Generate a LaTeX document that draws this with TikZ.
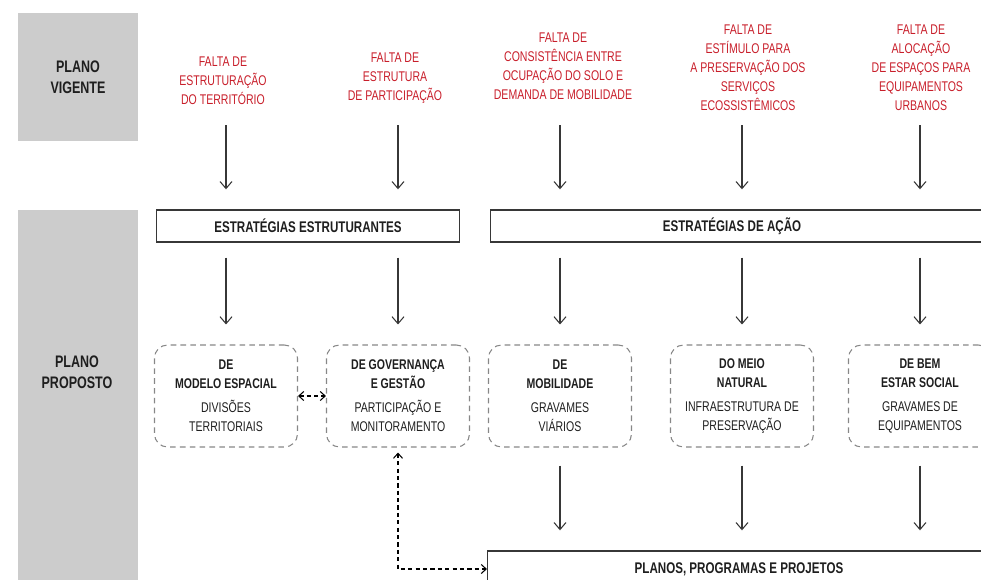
\documentclass[tikz,border=0pt]{standalone}
\usepackage{fontspec}
\setmainfont{Liberation Sans}[FakeStretch=0.75]
\usetikzlibrary{arrows.meta, positioning, calc}
\definecolor{planogray}{RGB}{204, 204, 204}
\definecolor{faltared}{RGB}{200, 30, 42}
\definecolor{linegray}{RGB}{55, 55, 55}
\definecolor{dashgray}{RGB}{135, 135, 135}
\definecolor{textdark}{RGB}{30, 30, 30}
\tikzstyle{header} = [rectangle, fill=planogray, minimum width=2.4cm, text=textdark, align=center, font=\fontsize{9.5}{11.8}\selectfont\bfseries]
\tikzstyle{headerlbl} = [text=textdark, align=center, font=\fontsize{9.5}{11.8}\selectfont\bfseries]
\tikzstyle{falta} = [text=faltared, align=center, font=\fontsize{8}{10.8}\selectfont]
\tikzstyle{strategy} = [rectangle, draw=linegray, line width=0.8pt, minimum height=0.64cm, text=textdark, font=\fontsize{8.8}{10.8}\selectfont\bfseries]
\tikzstyle{strategylbl} = [text=textdark, font=\fontsize{8.8}{10.8}\selectfont\bfseries]
\tikzstyle{eixo} = [rectangle, draw=dashgray, dash pattern=on 3.2pt off 2.4pt, line width=0.6pt, rounded corners=0.26cm, minimum width=2.86cm, minimum height=2.04cm, text=textdark, align=center, font=\fontsize{8}{10.8}\selectfont]
\tikzstyle{arrow} = [-{Straight Barb[length=1.4mm, width=2.4mm]}, line width=0.6pt, draw=linegray]
\tikzstyle{dasharrow} = [{Straight Barb[length=1mm, width=1.8mm]}-{Straight Barb[length=1mm, width=1.8mm]}, line width=0.6pt, draw=black, dash pattern=on 2.4pt off 1.8pt]

\begin{document}
\begin{tikzpicture}[x=0.02cm, y=-0.02cm]
    \useasboundingbox (0,0) rectangle (981,579);
    \clip (0,0) rectangle (981,579);

    % Plano vigente
    \node[header, minimum height=2.56cm] (vigente) at (78, 77) {PLANO\\VIGENTE};

    % Plano proposto (runs past the lower edge)
    \node[header, minimum height=7.8cm, anchor=north] (proposto) at (78, 210) {};
    \node[headerlbl] (propostolbl) at (77, 372) {PLANO\\PROPOSTO};

    % Problems of the current plan
    \node[falta] (falta1) at (223, 81) {FALTA DE\\ESTRUTURAÇÃO\\DO TERRITÓRIO};
    \node[falta] (falta2) at (395, 78) {FALTA DE\\ESTRUTURA\\DE PARTICIPAÇÃO};
    \node[falta] (falta3) at (563, 66) {FALTA DE\\CONSISTÊNCIA ENTRE\\OCUPAÇÃO DO SOLO E\\DEMANDA DE MOBILIDADE};
    \node[falta] (falta4) at (748, 68) {FALTA DE\\ESTÍMULO PARA\\A PRESERVAÇÃO DOS\\SERVIÇOS\\ECOSSISTÊMICOS};
    \node[falta] (falta5) at (921, 68) {FALTA DE\\ALOCAÇÃO\\DE ESPAÇOS PARA\\EQUIPAMENTOS\\URBANOS};
    \coordinate (top) at (0, 125);

    % Strategies
    \node[strategy, minimum width=6.06cm] (estrut) at (308, 226) {ESTRATÉGIAS ESTRUTURANTES};
    \node[strategy, minimum width=10.6cm, anchor=west] (acao) at (490, 226) {};
    \node[strategylbl] (acaolbl) at (732, 226) {ESTRATÉGIAS DE AÇÃO};

    % Axes - horizontal layout
    \node[eixo] (espacial) at (226, 396) {\textbf{DE}\\\textbf{MODELO ESPACIAL}\\[3pt]DIVISÕES\\TERRITORIAIS};
    \node[eixo] (governanca) at (398, 396) {\textbf{DE GOVERNANÇA}\\\textbf{E GESTÃO}\\[3pt]PARTICIPAÇÃO E\\MONITORAMENTO};
    \node[eixo] (mobilidade) at (560, 396) {\textbf{DE}\\\textbf{MOBILIDADE}\\[3pt]GRAVAMES\\VIÁRIOS};
    \node[eixo] (meio) at (742, 396) {\textbf{DO MEIO}\\\textbf{NATURAL}\\[3pt]INFRAESTRUTURA DE\\PRESERVAÇÃO};
    \node[eixo] (social) at (920, 396) {\textbf{DE BEM}\\\textbf{ESTAR SOCIAL}\\[3pt]GRAVAMES DE\\EQUIPAMENTOS};

    % Plans, programmes and projects
    \node[strategy, minimum width=10.6cm, minimum height=0.72cm, anchor=west] (planos) at (487, 569) {};
    \node[strategylbl] (planoslbl) at (739, 569) {PLANOS, PROGRAMAS E PROJETOS};

    % Arrows
    \draw[arrow, shorten >=0.4cm] (espacial |- top) -- (espacial |- estrut.north);
    \draw[arrow, shorten >=0.4cm] (governanca |- top) -- (governanca |- estrut.north);
    \draw[arrow, shorten >=0.4cm] (mobilidade |- top) -- (mobilidade |- acao.north);
    \draw[arrow, shorten >=0.4cm] (meio |- top) -- (meio |- acao.north);
    \draw[arrow, shorten >=0.4cm] (social |- top) -- (social |- acao.north);
    \draw[arrow, shorten <=0.3cm, shorten >=0.4cm] (espacial |- estrut.south) -- (espacial.north);
    \draw[arrow, shorten <=0.3cm, shorten >=0.4cm] (governanca |- estrut.south) -- (governanca.north);
    \draw[arrow, shorten <=0.3cm, shorten >=0.4cm] (mobilidade |- acao.south) -- (mobilidade.north);
    \draw[arrow, shorten <=0.3cm, shorten >=0.4cm] (meio |- acao.south) -- (meio.north);
    \draw[arrow, shorten <=0.3cm, shorten >=0.4cm] (social |- acao.south) -- (social.north);
    \draw[arrow, shorten <=0.36cm, shorten >=0.4cm] (mobilidade.south) -- (mobilidade |- planos.north);
    \draw[arrow, shorten <=0.36cm, shorten >=0.4cm] (meio.south) -- (meio |- planos.north);
    \draw[arrow, shorten <=0.36cm, shorten >=0.4cm] (social.south) -- (social |- planos.north);

    % Dashed links
    \draw[dasharrow] (espacial.east) -- (governanca.west);
    \draw[dasharrow, shorten <=0.1cm] (governanca.south) |- (planos.west);
\end{tikzpicture}
\end{document}
